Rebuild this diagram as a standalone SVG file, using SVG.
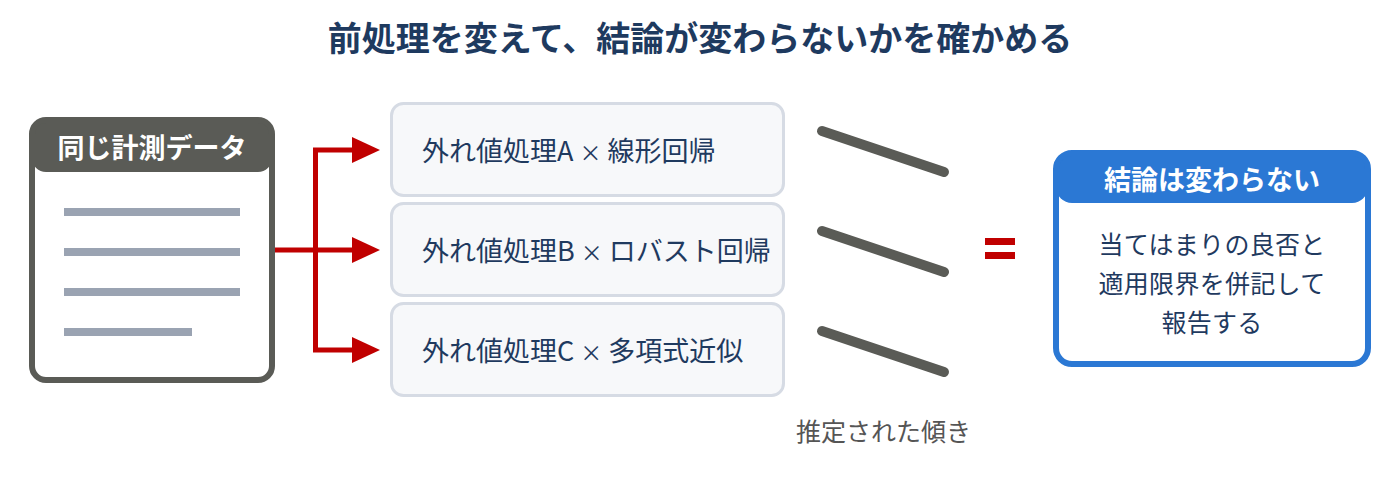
<svg xmlns="http://www.w3.org/2000/svg" width="1400" height="500" viewBox="0 0 1400 500">
  <defs>
    <style>
      text { font-family: "Noto Sans CJK JP", "Noto Sans", sans-serif; }
      .title { font-size: 34px; font-weight: 700; fill: #1e3a5f; }
      .hdr { font-size: 27px; font-weight: 700; fill: #ffffff; }
      .mid { font-size: 27px; fill: #1f3a5f; }
      .x { font-size: 22px; }
      .body { font-size: 25px; fill: #1f3a5f; letter-spacing: 0.3px; }
      .lbl { font-size: 25px; fill: #555555; }
      .doc-line { fill: #9aa3b2; }
      .box { fill: #f7f8fa; stroke: #d6dbe4; stroke-width: 3; }
      .conn { fill: none; stroke: #c00000; stroke-width: 5; }
      .slope { stroke: #5a5b56; stroke-width: 10; stroke-linecap: round; }
    </style>
    <marker id="arrow" viewBox="0 0 28 26" refX="0" refY="13" markerWidth="28" markerHeight="26" markerUnits="userSpaceOnUse" orient="auto">
      <path d="M0,0 L28,13 L0,26 Z" fill="#c00000"/>
    </marker>
    <clipPath id="leftClip"><rect x="32" y="120" width="240" height="260" rx="14"/></clipPath>
    <clipPath id="rightClip"><rect x="1056" y="153" width="312" height="211" rx="16"/></clipPath>
  </defs>

  <rect width="1400" height="500" fill="#ffffff"/>

  <text class="title" x="700" y="51" text-anchor="middle">前処理を変えて、結論が変わらないかを確かめる</text>

  <g id="connectors">
    <path class="conn" d="M272,250 L315.5,250"/>
    <path class="conn" d="M315.5,150 L315.5,350"/>
    <path class="conn" d="M313,150 L352,150" marker-end="url(#arrow)"/>
    <path class="conn" d="M315.5,250 L352,250" marker-end="url(#arrow)"/>
    <path class="conn" d="M313,350 L352,350" marker-end="url(#arrow)"/>
  </g>

  <g id="node-data">
    <rect x="32" y="120" width="240" height="260" rx="14" fill="#ffffff"/>
    <rect x="32" y="120" width="240" height="52" rx="14" fill="#5a5b56" clip-path="url(#leftClip)"/>
    <rect x="32" y="120" width="240" height="260" rx="14" fill="none" stroke="#5a5b56" stroke-width="6"/>
    <text class="hdr" x="152" y="158" text-anchor="middle">同じ計測データ</text>
    <rect class="doc-line" x="64" y="208" width="176" height="8"/>
    <rect class="doc-line" x="64" y="248" width="176" height="8"/>
    <rect class="doc-line" x="64" y="288" width="176" height="8"/>
    <rect class="doc-line" x="64" y="328" width="128" height="8"/>
  </g>

  <g id="node-a">
    <rect class="box" x="391.5" y="103.5" width="392" height="92" rx="12"/>
    <text class="mid" x="422" y="161">外れ値処理A <tspan class="x">×</tspan> 線形回帰</text>
  </g>
  <g id="node-b">
    <rect class="box" x="391.5" y="203.5" width="392" height="92" rx="12"/>
    <text class="mid" x="422" y="261">外れ値処理B <tspan class="x">×</tspan> ロバスト回帰</text>
  </g>
  <g id="node-c">
    <rect class="box" x="391.5" y="303.5" width="392" height="92" rx="12"/>
    <text class="mid" x="422" y="361">外れ値処理C <tspan class="x">×</tspan> 多項式近似</text>
  </g>

  <g id="slopes">
    <line class="slope" x1="822" y1="131" x2="944" y2="172"/>
    <line class="slope" x1="822" y1="231" x2="944" y2="272"/>
    <line class="slope" x1="822" y1="331" x2="944" y2="372"/>
    <text class="lbl" x="883.5" y="441" text-anchor="middle">推定された傾き</text>
  </g>

  <g id="equals">
    <rect x="985" y="238" width="30" height="7" fill="#c00000"/>
    <rect x="985" y="252" width="30" height="7" fill="#c00000"/>
  </g>

  <g id="node-result">
    <rect x="1056" y="153" width="312" height="211" rx="16" fill="#ffffff"/>
    <rect x="1056" y="153" width="312" height="50" rx="16" fill="#2b78d4" clip-path="url(#rightClip)"/>
    <rect x="1056" y="153" width="312" height="211" rx="16" fill="none" stroke="#2b78d4" stroke-width="6"/>
    <text class="hdr" x="1212" y="190" text-anchor="middle">結論は変わらない</text>
    <text class="body" x="1212" y="254" text-anchor="middle">当てはまりの良否と</text>
    <text class="body" x="1212" y="293" text-anchor="middle">適用限界を併記して</text>
    <text class="body" x="1212" y="332" text-anchor="middle">報告する</text>
  </g>
</svg>
